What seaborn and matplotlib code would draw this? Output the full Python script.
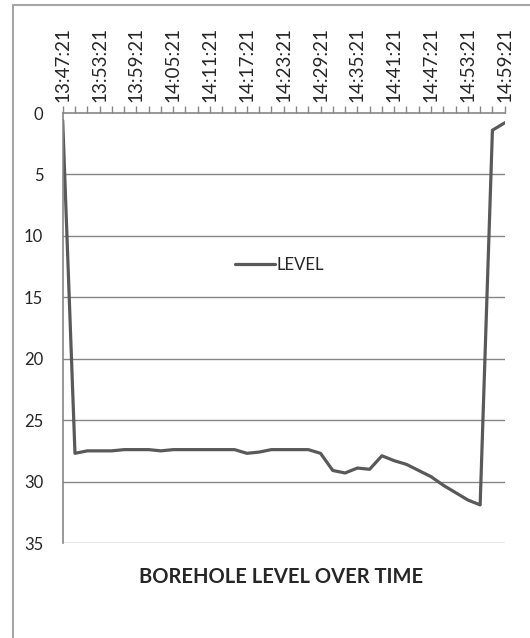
import matplotlib
matplotlib.use('Agg')
import matplotlib.pyplot as plt
import seaborn as sns
from matplotlib.lines import Line2D

# time stamps every 2 minutes
times = ['13:47:21', '13:49:21', '13:51:21', '13:53:21', '13:55:21', '13:57:21',
         '13:59:21', '14:01:21', '14:03:21', '14:05:21', '14:07:21', '14:09:21',
         '14:11:21', '14:13:21', '14:15:21', '14:17:21', '14:19:21', '14:21:21',
         '14:23:21', '14:25:21', '14:27:21', '14:29:21', '14:31:21', '14:33:21',
         '14:35:21', '14:37:21', '14:39:21', '14:41:21', '14:43:21', '14:45:21',
         '14:47:21', '14:49:21', '14:51:21', '14:53:21', '14:55:21', '14:57:21',
         '14:59:21']
level = [0.6, 27.7, 27.5, 27.5, 27.5, 27.4, 27.4, 27.4, 27.5, 27.4, 27.4, 27.4,
         27.4, 27.4, 27.4, 27.7, 27.6, 27.4, 27.4, 27.4, 27.4, 27.7, 29.1, 29.3,
         28.9, 29.0, 27.9, 28.3, 28.6, 29.1, 29.6, 30.3, 30.9, 31.5, 31.9, 1.4,
         0.8]
y_ticks = [0, 5, 10, 15, 20, 25, 30, 35]

sns.set_style('white')
plt.rcParams['font.family'] = ['Lato', 'DejaVu Sans']

W, H = 530, 638
fig = plt.figure(figsize=(W / 100, H / 100), dpi=100)
ax = fig.add_axes([62.7 / W, 1 - 543 / H, 442 / W, 430 / H])

idx = list(range(len(times)))
sns.lineplot(x=idx, y=level, ax=ax, color='#595959', linewidth=2.3, label='LEVEL')

grid_c = '#868686'
ax.set_ylim(35, 0)
ax.set_xlim(0, len(times) - 1)
ax.set_yticks(y_ticks)
ax.set_yticklabels([str(v) for v in y_ticks], fontsize=12)
for v in y_ticks[1:]:
    ax.axhline(v, color=grid_c, linewidth=1, zorder=0)

ax.xaxis.tick_top()
ax.set_xticks(idx[::3])
ax.set_xticklabels(times[::3], rotation=90, fontsize=13.5)
ax.set_xticks(idx, minor=True)
ax.tick_params(axis='x', which='both', direction='out', length=5, color=grid_c, width=1, pad=3)
ax.tick_params(axis='y', direction='out', length=6, color=grid_c, width=1, pad=8)

for s in ['right', 'bottom']:
    ax.spines[s].set_visible(False)
for s in ['left', 'top']:
    ax.spines[s].set_color(grid_c)
    ax.spines[s].set_linewidth(1.2)

ax.legend(loc='center', bbox_to_anchor=(0.49, 0.647), frameon=False, fontsize=12,
          handlelength=2.4, handletextpad=0.1)

fig.text(281 / W, 1 - 577 / H, 'BOREHOLE LEVEL OVER TIME', ha='center', va='center',
         fontsize=14.5, fontweight='bold')

# outer chart frame
fy = 1 - 5 / H
fx = 13 / W
fig.add_artist(Line2D([fx, fx], [0, fy], color='#a6a6a6', linewidth=1.5))
fig.add_artist(Line2D([fx, 1], [fy, fy], color='#a6a6a6', linewidth=1.5))

fig.savefig('out.png', dpi=100)
